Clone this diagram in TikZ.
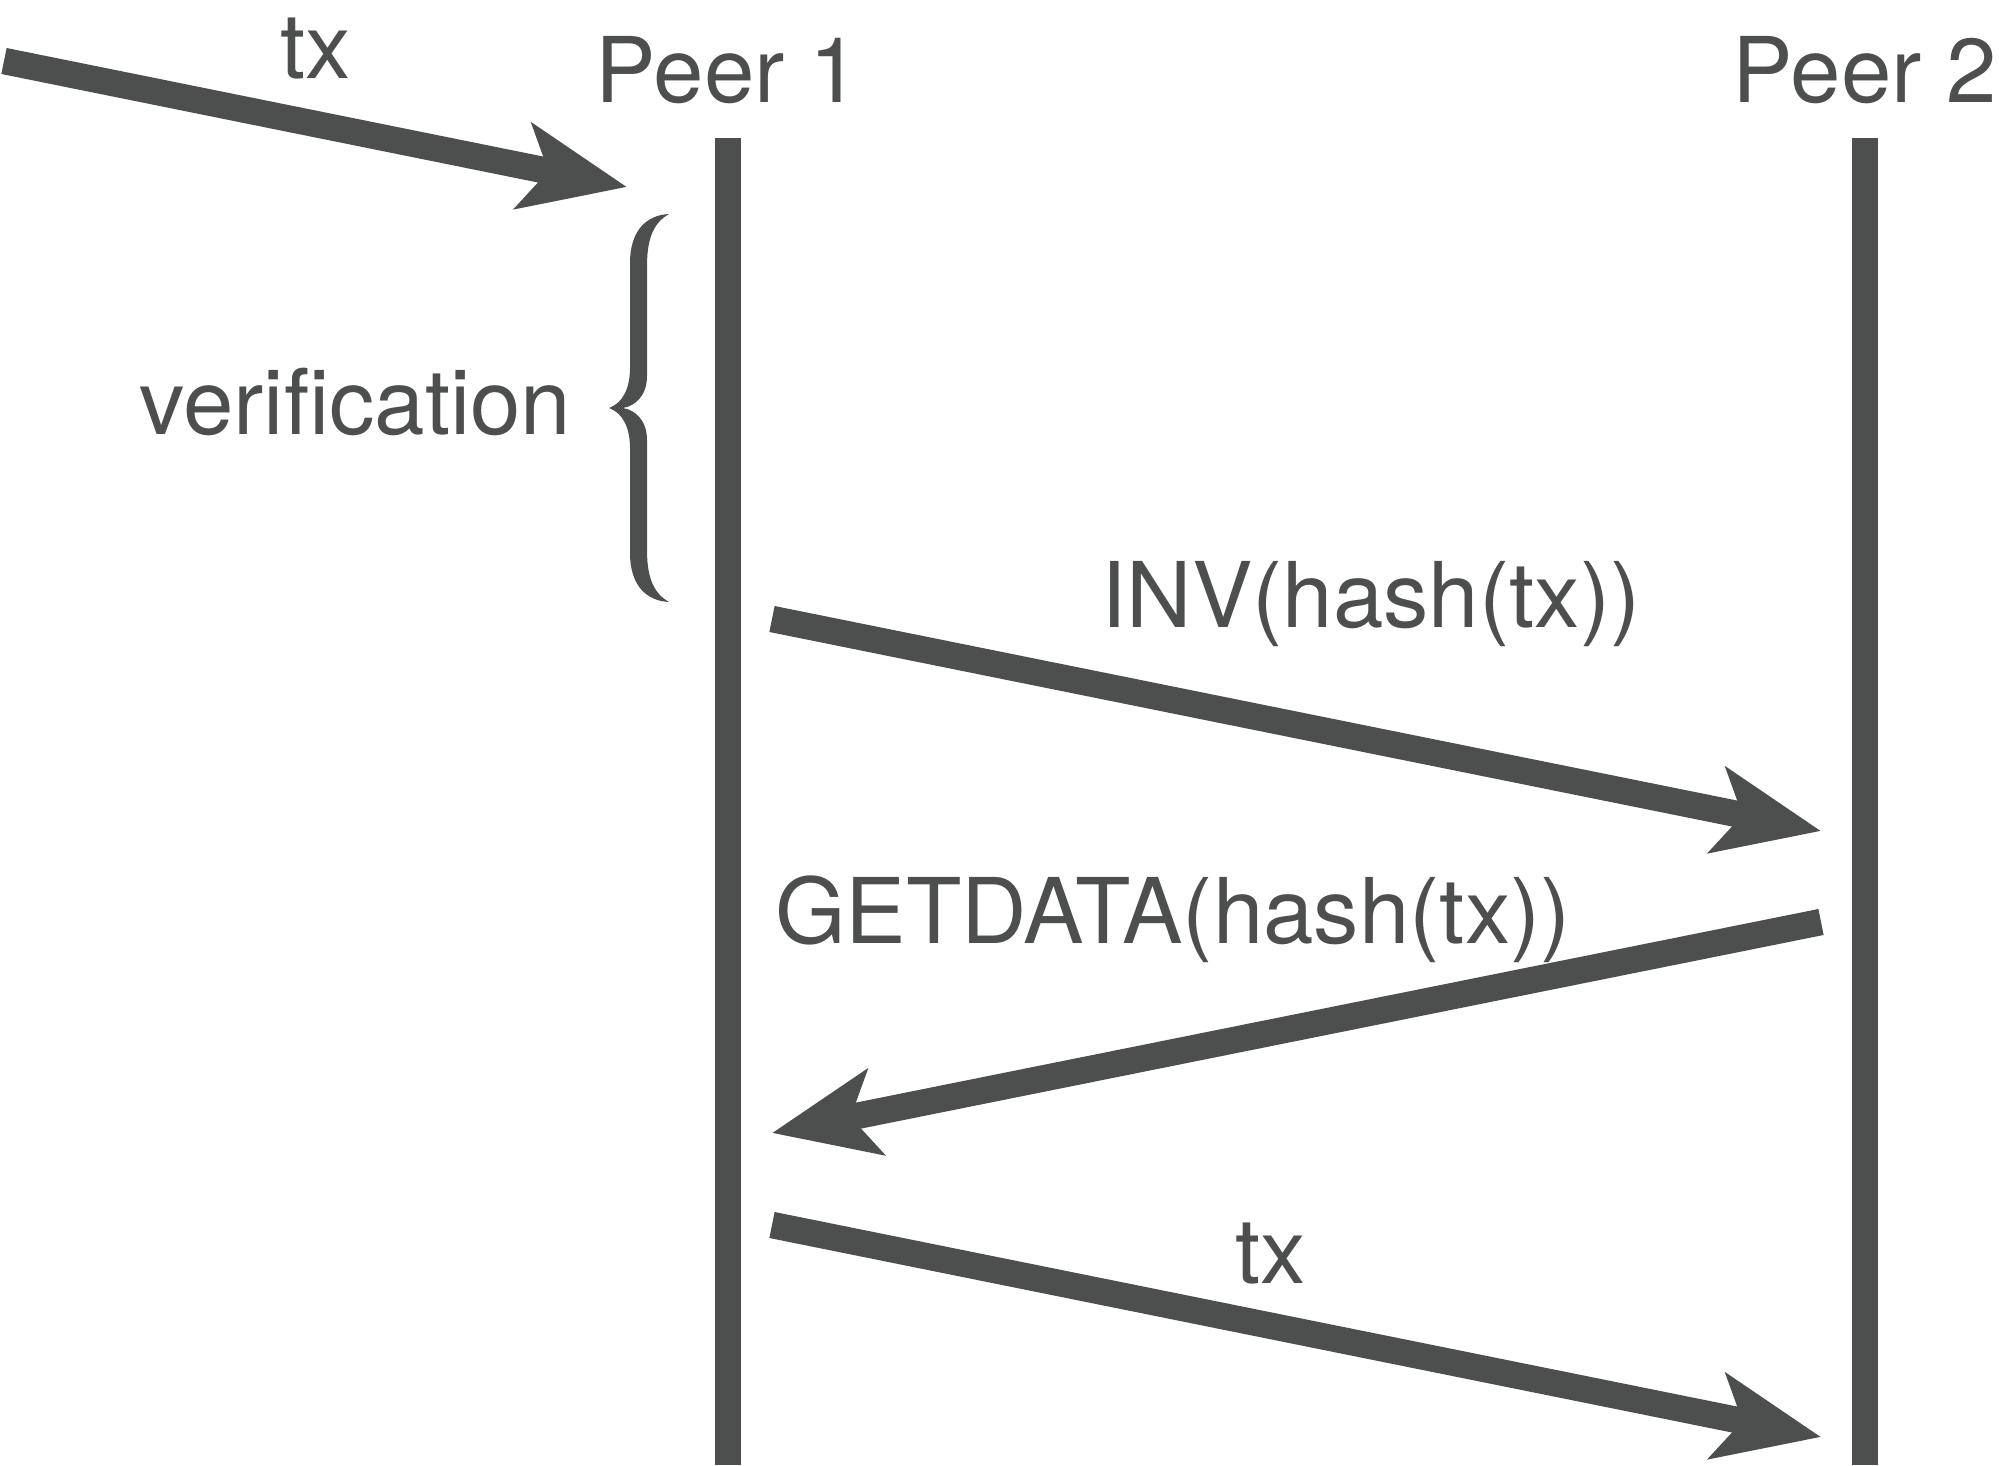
\documentclass[tikz,border=0pt]{standalone}
\usepackage{fontspec}
\setmainfont{TeX Gyre Heros}
\usetikzlibrary{arrows.meta,positioning}
\definecolor{ink}{RGB}{77,79,79}

\begin{document}
\begin{tikzpicture}[
  font=\fontsize{25.8}{30}\selectfont,
  >={Stealth[length=10.5mm, width=8.6mm, inset=2.5mm]},
  peer/.style={inner sep=0pt, text=ink},
  lbl/.style={inner sep=0pt, text=ink, anchor=base},
  life/.style={draw=ink, line width=2.65mm},
  msg/.style={->, draw=ink, line width=2.65mm},
]
\useasboundingbox (0,0) rectangle (19.99,14.65);

% Lifelines
\coordinate (p1top) at (7.28,13.27);
\coordinate (p1bot) at (7.28,0);
\coordinate (p2top) at (18.65,13.27);
\coordinate (p2bot) at (18.65,0);
\draw[life] (p1top) -- (p1bot);
\draw[life] (p2top) -- (p2bot);

% Peers
\node[peer, above=3.3mm of p1top] (peer1) {Peer 1};
\node[peer, above=3.3mm of p2top] (peer2) {Peer 2};

% Incoming tx
\coordinate (src) at (0.04,14.04);
\coordinate (p1in) at (6.27,12.78);
\draw[msg] (src) -- (p1in);
\node[lbl] (txin) at (3.16,13.86) {tx};

% Verification brace
\coordinate (vtip) at (6.09,10.57);
\begin{scope}[shift={(vtip)}]
  \fill[ink] (0,0)
    .. controls (0.14,0.05) and (0.21,0.2) .. (0.21,0.4)
    -- (0.21,1.45)
    .. controls (0.21,1.78) and (0.38,1.93) .. (0.60,1.94)
    .. controls (0.46,1.86) and (0.38,1.72) .. (0.38,1.42)
    -- (0.38,0.32)
    .. controls (0.38,0.12) and (0.26,0.02) .. (0.14,0)
    .. controls (0.26,-0.02) and (0.38,-0.12) .. (0.38,-0.32)
    -- (0.38,-1.42)
    .. controls (0.38,-1.72) and (0.46,-1.86) .. (0.60,-1.94)
    .. controls (0.38,-1.93) and (0.21,-1.78) .. (0.21,-1.45)
    -- (0.21,-0.4)
    .. controls (0.21,-0.2) and (0.14,-0.05) .. (0,0) -- cycle;
\end{scope}
\node[lbl, anchor=base east] (verif) at (5.72,10.30) {verification};

% Messages
\coordinate (p1inv) at (7.72,8.46);
\coordinate (p2inv) at (18.21,6.34);
\draw[msg] (p1inv) -- (p2inv);
\node[lbl] (inv) at (13.71,8.38) {INV(hash(tx))};

\coordinate (p2get) at (18.21,5.43);
\coordinate (p1get) at (7.72,3.32);
\draw[msg] (p2get) -- (p1get);
\node[lbl] (getdata) at (11.73,5.22) {GETDATA(hash(tx))};

\coordinate (p1tx) at (7.72,2.40);
\coordinate (p2tx) at (18.21,0.28);
\draw[msg] (p1tx) -- (p2tx);
\node[lbl] (txout) at (12.71,1.82) {tx};

\end{tikzpicture}
\end{document}
